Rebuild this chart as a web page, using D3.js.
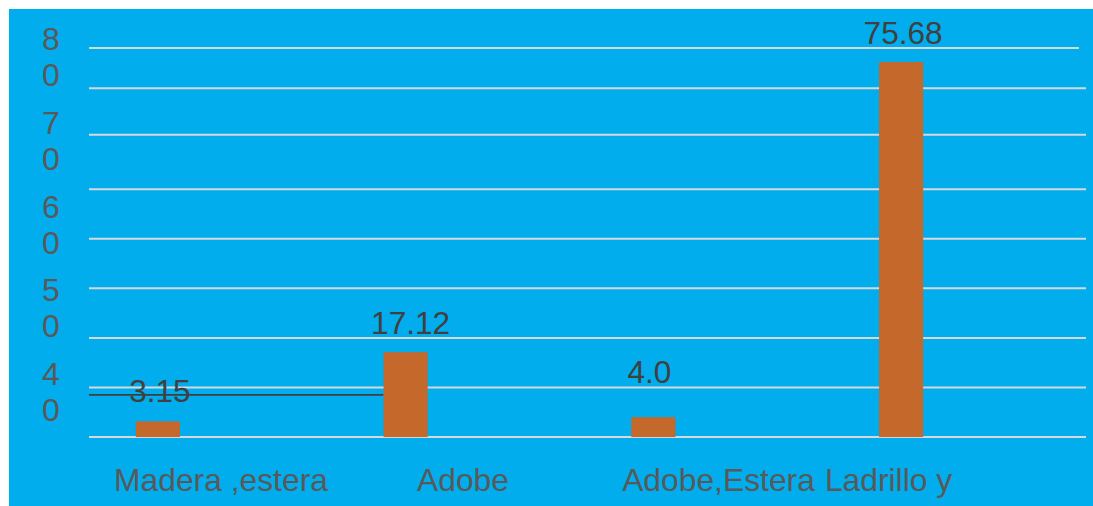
<!DOCTYPE html>
<html>
<head>
<meta charset="utf-8">
<script src="https://cdn.jsdelivr.net/npm/d3@7"></script>
<style>
  html, body { margin: 0; padding: 0; background: #ffffff; }
  svg { display: block; }
  text { font-family: "Liberation Sans", Arial, sans-serif; }
</style>
</head>
<body>
<svg id="chart" width="1093" height="506"></svg>
<script>
// Wall material of dwellings (%)
const categories = ["Madera ,estera", "Adobe", "Adobe,Estera", "Ladrillo y"];
const values = [3.15, 17.12, 4.0, 75.68];
const valueLabels = ["3.15", "17.12", "4.0", "75.68"];

// Vertical axis labels, each written as stacked digits
const yTickLabels = ["80", "70", "60", "50", "40"];

// Horizontal rule levels across the plot
const gridLevels = [0, 10, 20, 30, 40, 50, 61, 70.4, 78.5];

// Level of the dark reference rule on the left
const refLevel = 8.5;

const W = 1093, H = 506;
const svg = d3.select("#chart");

// blue panel
svg.append("rect")
  .attr("x", 9).attr("y", 9)
  .attr("width", W - 9).attr("height", H - 9)
  .attr("fill", "#01ADEC");

const plotLeft = 89, plotRight = 1086;

const y = d3.scaleLinear().domain([0, 80]).range([437, 40.6]);
const x = d3.scaleBand().domain(categories).range([34, 1025]).padding(0);
const barW = x.bandwidth() * 0.178;

// grid rules
svg.append("g").selectAll("line")
  .data(gridLevels)
  .join("line")
  .attr("x1", plotLeft)
  .attr("x2", (d, i) => i === gridLevels.length - 1 ? plotRight - 7 : plotRight)
  .attr("y1", d => y(d)).attr("y2", d => y(d))
  .attr("stroke", "#D6D9DC")
  .attr("stroke-width", 2);

// dark rule from the axis to the second bar
svg.append("line")
  .attr("x1", plotLeft)
  .attr("x2", x(categories[1]) + (x.bandwidth() - barW) / 2)
  .attr("y1", y(refLevel)).attr("y2", y(refLevel))
  .attr("stroke", "#3F3F3F")
  .attr("stroke-width", 1.7);

// bars
svg.append("g").selectAll("rect")
  .data(values)
  .join("rect")
  .attr("x", (d, i) => x(categories[i]) + (x.bandwidth() - barW) / 2)
  .attr("width", barW)
  .attr("y", d => y(d))
  .attr("height", d => y(0) - y(d))
  .attr("fill", "#C4682B");

// value labels above bars
const labelLift = [19, 18, 34, 18];
const labelShift = [2, 5, -4, 2];
svg.append("g").selectAll("text")
  .data(values)
  .join("text")
  .attr("x", (d, i) => x(categories[i]) + x.bandwidth() / 2 + labelShift[i])
  .attr("y", (d, i) => y(d) - labelLift[i])
  .attr("text-anchor", "middle")
  .attr("font-size", 31.6)
  .attr("fill", "#404040")
  .text((d, i) => valueLabels[i]);

// stacked-digit y labels
const yl = d3.scalePoint().domain(yTickLabels).range([57, 392]);
const ylG = svg.append("g");
yTickLabels.forEach(t => {
  const txt = ylG.append("text")
    .attr("x", 51)
    .attr("y", yl(t) - 18)
    .attr("text-anchor", "middle")
    .attr("font-size", 32)
    .attr("fill", "#595959");
  t.split("").forEach((ch, j) => {
    txt.append("tspan")
      .attr("x", 51)
      .attr("dy", j === 0 ? "0.35em" : 36)
      .text(ch);
  });
});

// category labels
const catLabelX = [221, 463, 718.5, 888.5];
svg.append("g").selectAll("text")
  .data(categories)
  .join("text")
  .attr("x", (d, i) => catLabelX[i])
  .attr("y", 491)
  .attr("text-anchor", "middle")
  .attr("font-size", 31.8)
  .attr("fill", "#595959")
  .text(d => d);
</script>
</body>
</html>
